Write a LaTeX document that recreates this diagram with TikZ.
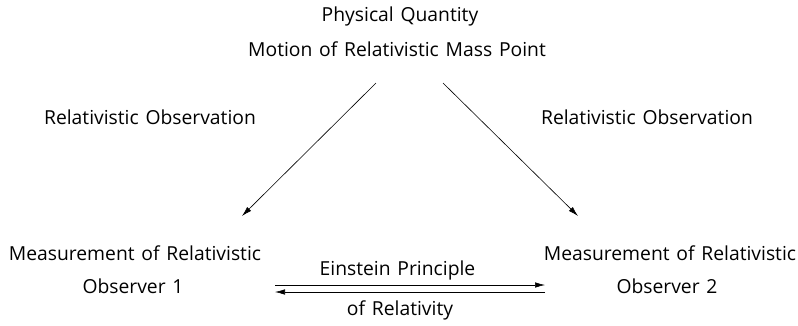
\documentclass[tikz,border=0pt]{standalone}
\usepackage{fontspec}
\setmainfont{Open Sans}[WordSpace={1.35,1,1}]
\usetikzlibrary{arrows.meta}
\begin{document}
\begin{tikzpicture}[x=1pt,y=-1pt,
  lbl/.style={inner sep=0pt,font=\fontsize{19.3}{22}\selectfont},
  arr/.style={-{Latex[length=10pt,width=5.5pt]},line width=0.6pt}]
\useasboundingbox (0,0) rectangle (798,325);
\node[lbl] (pq) at (400,16) {Physical Quantity};
\node[lbl] (mo) at (397,49) {Motion of Relativistic Mass Point};
\node[lbl] (ro1) at (150,117) {Relativistic Observation};
\node[lbl] (ro2) at (647,117) {Relativistic Observation};
\node[lbl] (m1) at (135,253) {Measurement of Relativistic};
\node[lbl] (o1) at (133,286) {Observer 1};
\node[lbl] (m2) at (670,253) {Measurement of Relativistic};
\node[lbl] (o2) at (667,286) {Observer 2};
\node[lbl] (ep) at (397.5,270) {Einstein Principle};
\node[lbl] (or) at (400,310) {of Relativity};
\coordinate (a1s) at (376,83);
\coordinate (a1e) at (242,216);
\coordinate (a2s) at (443,83);
\coordinate (a2e) at (578,216);
\coordinate (t1) at (275,285);
\coordinate (t2) at (545,285);
\coordinate (b1) at (275,292);
\coordinate (b2) at (545,292);
\draw[arr] (a1s) -- (a1e);
\draw[arr] (a2s) -- (a2e);
\draw[arr] (t1) -- (t2);
\draw[arr] (b2) -- (b1);
\end{tikzpicture}
\end{document}
